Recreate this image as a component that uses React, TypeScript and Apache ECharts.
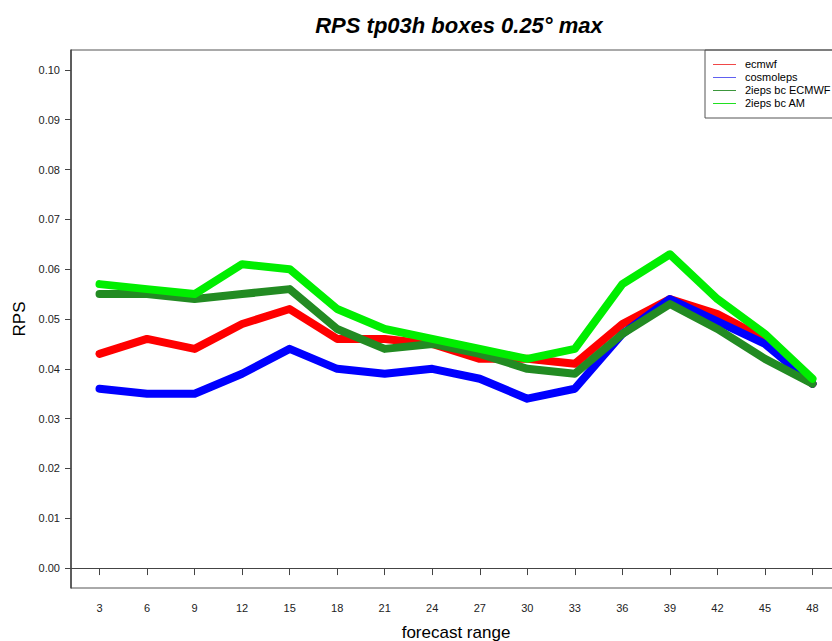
import React, { useEffect, useRef } from "react";
import * as echarts from "echarts";

const forecastRange = [3, 6, 9, 12, 15, 18, 21, 24, 27, 30, 33, 36, 39, 42, 45, 48];
const yTicks = [0, 0.01, 0.02, 0.03, 0.04, 0.05, 0.06, 0.07, 0.08, 0.09, 0.1];

const ecmwf = [0.043, 0.046, 0.044, 0.049, 0.052, 0.046, 0.046, 0.045, 0.042, 0.042, 0.041, 0.049, 0.054, 0.051, 0.046, 0.037];
const cosmoleps = [0.036, 0.035, 0.035, 0.039, 0.044, 0.040, 0.039, 0.040, 0.038, 0.034, 0.036, 0.047, 0.054, 0.0495, 0.045, 0.037];
const ieps2EcmwF = [0.055, 0.055, 0.054, 0.055, 0.056, 0.048, 0.044, 0.045, 0.043, 0.040, 0.039, 0.047, 0.053, 0.048, 0.042, 0.037];
const ieps2AM = [0.057, 0.056, 0.055, 0.061, 0.060, 0.052, 0.048, 0.046, 0.044, 0.042, 0.044, 0.057, 0.063, 0.054, 0.047, 0.038];

const seriesDefs = [
  { name: "ecmwf", data: ecmwf, color: "#ff0000", legendColor: "#f04848" },
  { name: "cosmoleps", data: cosmoleps, color: "#0000ff", legendColor: "#6060f0" },
  { name: "2ieps bc ECMWF", data: ieps2EcmwF, color: "#228b22", legendColor: "#3c963c" },
  { name: "2ieps bc AM", data: ieps2AM, color: "#00ee00", legendColor: "#20e020" },
];

const FONT = "Liberation Sans, Arial, sans-serif";

export default function App() {
  const ref = useRef<HTMLDivElement>(null);
  useEffect(() => {
    if (!ref.current) return;
    const chart = echarts.init(ref.current, null, { renderer: "svg" });
    chart.setOption({
      animation: false,
      backgroundColor: "#ffffff",
      textStyle: { fontFamily: FONT },
      title: {
        text: "RPS tp03h boxes 0.25° max",
        left: 454,
        top: 9,
        textAlign: "center",
        textStyle: { fontFamily: FONT, fontSize: 22, fontWeight: "bold", fontStyle: "italic", color: "#000" },
      },
      grid: {
        left: 71,
        top: 50,
        right: -9,
        bottom: 53,
        outerBoundsMode: "none",
        containLabel: false,
        show: true,
        borderColor: "#555",
        borderWidth: 1,
        backgroundColor: "transparent",
      },
      legend: {
        orient: "vertical",
        left: 709,
        top: 52,
        itemWidth: 24,
        itemHeight: 4,
        itemGap: 0,
        icon: "none",
        textStyle: { fontFamily: FONT, fontSize: 11, color: "#000", lineHeight: 13, padding: [0, 0, 0, 2] },
        data: seriesDefs.map((s) => ({ name: s.name, icon: "none" })),
      },
      graphic: [
        {
          type: "rect",
          shape: { x: 705, y: 50, width: 140, height: 68 },
          style: { fill: "none", stroke: "#555", lineWidth: 1 },
          z: 100,
        },
        ...seriesDefs.map((s, i) => ({
          type: "line",
          shape: { x1: 713, y1: 64.5 + i * 13, x2: 736, y2: 64.5 + i * 13 },
          style: { stroke: s.legendColor, lineWidth: 1 },
          z: 100,
        })),
      ],
      xAxis: {
        type: "value",
        min: 1.2,
        max: 49.8,
        name: "forecast range",
        nameLocation: "middle",
        nameGap: 36,
        nameTextStyle: { fontFamily: FONT, fontSize: 17, color: "#000" },
        axisLine: { show: true, lineStyle: { color: "#444", width: 1 } },
        axisTick: { show: true, length: 7, customValues: forecastRange, lineStyle: { color: "#444" } },
        axisLabel: {
          customValues: forecastRange,
          margin: 14,
          fontFamily: FONT,
          fontSize: 11,
          color: "#222",
          formatter: (v: number) => String(Math.round(v)),
        },
        splitLine: { show: false },
      },
      yAxis: {
        type: "value",
        min: -0.004,
        max: 0.104,
        name: "RPS",
        nameLocation: "middle",
        nameGap: 41,
        nameRotate: 90,
        nameTextStyle: { fontFamily: FONT, fontSize: 17, color: "#000" },
        axisLine: { show: true, lineStyle: { color: "#444", width: 1.5 } },
        axisTick: { show: true, length: 6, customValues: yTicks, lineStyle: { color: "#444" } },
        axisLabel: {
          customValues: yTicks,
          margin: 11,
          fontFamily: FONT,
          fontSize: 11,
          color: "#222",
          formatter: (v: number) => v.toFixed(2),
        },
        splitLine: { show: false },
      },
      series: seriesDefs.map((s) => ({
        name: s.name,
        type: "line",
        data: forecastRange.map((x, i) => [x, s.data[i]]),
        showSymbol: false,
        symbol: "none",
        color: s.color,
        lineStyle: { color: s.color, width: 8, join: "round", cap: "round" },
        itemStyle: { color: s.color },
      })),
    });
    return () => chart.dispose();
  }, []);
  return <div ref={ref} style={{ position: "fixed", left: 0, top: 0, width: 832, height: 641 }} />;
}
